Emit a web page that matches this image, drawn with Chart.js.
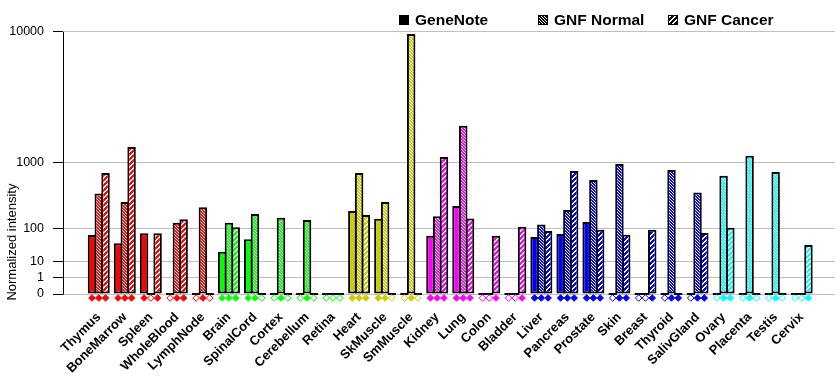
<!DOCTYPE html>
<html><head><meta charset="utf-8">
<script src="https://cdn.jsdelivr.net/npm/chart.js@4/dist/chart.umd.min.js"></script>
<style>html,body{margin:0;padding:0;background:#fff}#wrap{width:840px;height:385px}</style>
</head><body><div id="wrap"><canvas id="c" width="840" height="385"></canvas></div>
<script>
// ---- data ----
const categories = ['Thymus','BoneMarrow','Spleen','WholeBlood','LymphNode','Brain','SpinalCord','Cortex','Cerebellum','Retina','Heart','SkMuscle','SmMuscle','Kidney','Lung','Colon','Bladder','Liver','Pancreas','Prostate','Skin','Breast','Thyroid','SalivGland','Ovary','Placenta','Testis','Cervix'];
const seriesNames = ['GeneNote','GNF Normal','GNF Cancer'];
const geneNote  = [70,43,78,0,0,23,55,0,0,0,219,157,0,67,266,0,0,63,74,137,0,0,0,0,0,0,0,0];
const gnfNormal = [411,307,0,131,253,131,194,164,150,0,764,307,9690,176,2280,0,0,121,228,627,969,0,828,425,710,1191,784,0];
const gnfCancer = [764,1456,78,155,0,106,0,0,0,0,186,0,0,1151,159,67,108,88,807,93,71,93,0,79,103,0,0,38];
const presGeneNote = [1,1,1,0,0,1,1,0,0,0,1,1,0,1,1,0,0,1,1,1,0,0,0,0,0,0,0,0];
const presNormal   = [1,1,0,1,1,1,1,1,1,0,1,1,1,1,1,0,0,1,1,1,1,0,1,1,1,1,1,0];
const presCancer   = [1,1,1,1,0,1,0,0,0,0,1,0,0,1,1,1,1,1,1,1,1,1,1,1,1,0,0,1];
const yTickValues = [0,1,10,100,1000,10000];

// ---- styles ----
const RED='#ff0000', GRN='#00ff00', OLV='#cccc00', MAG='#ff00ff', BLU='#0000ff', CYN='#00ffff';
const tissueColor = [RED,RED,RED,RED,RED, GRN,GRN,GRN,GRN,GRN, OLV,OLV,OLV, MAG,MAG,MAG,MAG, BLU,BLU,BLU,BLU,BLU,BLU,BLU, CYN,CYN,CYN,CYN];

// power scale: 10^k -> 2^k
const tf = v => v <= 0 ? 0 : Math.pow(v, Math.log10(2));

const canvas = document.getElementById('c');
const ctx = canvas.getContext('2d');
const patCache = {};
function hatch(color, kind){
  const key = color + kind;
  if (patCache[key]) return patCache[key];
  const n = kind === 'normal' ? 3 : 5;
  const c = document.createElement('canvas'); c.width = c.height = n;
  const x = c.getContext('2d');
  x.fillStyle = color; x.fillRect(0,0,n,n);
  x.fillStyle = '#ffffff';
  for (let i=0;i<n;i++) for (let j=0;j<n;j++){
    if (kind === 'normal'){ if ((((i-j)%n)+n)%n === 0) x.fillRect(i,j,1,1); }
    else { const s=(i+j)%n; if (s===0||s===1) x.fillRect(i,j,1,1); }
  }
  return patCache[key] = ctx.createPattern(c,'repeat');
}

const values = [geneNote, gnfNormal, gnfCancer];
const pres = [presGeneNote, presNormal, presCancer];
const kinds = ['solid','normal','cancer'];
const CAT_PCT = 0.78;

function fillFor(k){
  return (c) => {
    const i = c.dataIndex; if (i === undefined) return '#000';
    if (values[k][i] <= 0) return '#000';
    return kinds[k] === 'solid' ? tissueColor[i] : hatch(tissueColor[i], kinds[k]);
  };
}

const barSets = values.map((arr,k) => ({
  type:'bar', label: seriesNames[k],
  data: arr.map((v,i) => ({x:i, y:tf(v)})),
  backgroundColor: fillFor(k), borderColor:'#000', borderWidth:2, borderSkipped:false,
  minBarLength:2, categoryPercentage:CAT_PCT, barPercentage:1.25, order:1
}));
const markSets = pres.map((arr,k) => ({
  type:'scatter', label: seriesNames[k] + ' call',
  data: arr.map((p,i) => ({x: i + (k-1)*CAT_PCT/3, y: -0.24})),
  pointStyle:'rectRot', pointRadius:3.3, pointBorderWidth:1,
  pointBackgroundColor: arr.map((p,i) => p ? tissueColor[i] : '#ffffff'),
  pointBorderColor: arr.map((p,i) => tissueColor[i]),
  clip:false, order:0
}));

const legendPlugin = {
  id:'customLegend',
  afterDraw(chart){
    const c = chart.ctx; c.save();
    const xs = [399, 538, 668];
    c.font = 'bold 15.5px "Liberation Sans", Arial, sans-serif';
    c.textBaseline = 'middle'; c.textAlign = 'left';
    seriesNames.forEach((name,k) => {
      const x = xs[k], y = 15;
      c.fillStyle = kinds[k]==='solid' ? '#000' : hatch('#000', kinds[k]);
      c.fillRect(x, y, 10, 10);
      if (k>0){ c.strokeStyle='#000'; c.lineWidth=1; c.strokeRect(x+0.5,y+0.5,9,9); }
      c.fillStyle = '#000';
      c.fillText(name, x + 16, y + 5.5);
    });
    // y axis line from 0 to top tick
    const ys = chart.scales.y, a = chart.chartArea;
    const xx = Math.round(a.left) + 0.5;
    c.strokeStyle = '#000'; c.lineWidth = 1;
    c.beginPath(); c.moveTo(xx, Math.round(ys.getPixelForValue(tf(10000)))); c.lineTo(xx, Math.round(ys.getPixelForValue(0))+0.5); c.stroke();
    c.restore();
  }
};

new Chart(canvas, {
  type:'bar',
  data:{ datasets:[...barSets, ...markSets] },
  options:{
    responsive:false, animation:false, devicePixelRatio:1,
    layout:{ padding:{ top:31.5, right:0, left:0, bottom:0 } },
    plugins:{ legend:{display:false}, tooltip:{enabled:false} },
    scales:{
      x:{
        type:'linear', min:-1.374, max:28.28, offset:false,
        grid:{ display:false, drawTicks:false },
        border:{ display:false },
        afterBuildTicks: s => { s.ticks = categories.map((_,i) => ({value:i})); },
        afterFit: s => { s.height = 84.4; },
        ticks:{ autoSkip:false, minRotation:45, maxRotation:45, padding:9, color:'#000',
          font:{ family:'"Liberation Sans", Arial, sans-serif', size:13, weight:'bold' },
          callback:(v,i) => categories[i] }
      },
      y:{
        type:'linear', min:-0.4, max:tf(10000),
        afterBuildTicks: s => { s.ticks = yTickValues.map(v => ({value: tf(v)})); },
        afterFit: s => { s.width = 63; },
        grid:{ color:'#c0c0c0', lineWidth:1, tickColor:'#000', tickLength:10, drawTicks:true },
        border:{ display:false },
        ticks:{ padding:9, color:'#000', font:{ family:'"Liberation Sans", Arial, sans-serif', size:12.5 },
          callback:(v,i) => String(yTickValues[i]) },
        title:{ display:true, text:'Normalized intensity', align:'start', color:'#000',
          padding:{top:5,bottom:0}, font:{ family:'"Liberation Sans", Arial, sans-serif', size:13 } }
      }
    }
  },
  plugins:[legendPlugin]
});
</script></body></html>
